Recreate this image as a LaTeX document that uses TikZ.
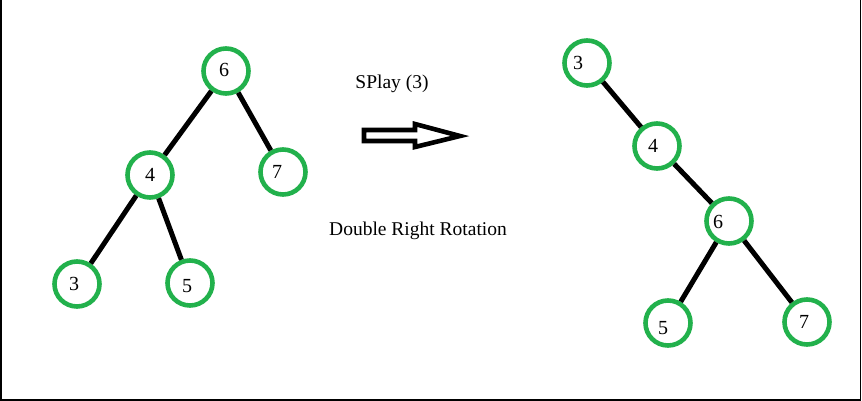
\documentclass[tikz,border=0pt]{standalone}
\usepackage{fontspec}
\setmainfont{Liberation Serif}
\definecolor{pgreen}{RGB}{34,177,76}
\begin{document}
\begin{tikzpicture}[x=1pt,y=-1pt,
  vert/.style={circle,draw=pgreen,line width=4.6pt,minimum size=45pt,inner sep=0pt},
  dig/.style={font=\fontsize{20}{20}\selectfont,inner sep=0pt},
  edge/.style={line width=5pt,black},
  captext/.style={font=\fontsize{19.5}{22}\selectfont,inner sep=0pt,anchor=base}]
\useasboundingbox (0,0) rectangle (862,401);
\draw[line width=1.6pt] (1,0) -- (1,400) -- (860.5,400) -- (860.5,0);
% left tree
\node[vert,label={[dig,shift={(-2pt,1pt)}]center:6}] (a6) at (226,71) {};
\node[vert,label={[dig,shift={(0pt,0pt)}]center:4}] (a4) at (150,175) {};
\node[vert,label={[dig,shift={(-6pt,0pt)}]center:7}] (a7) at (283,172) {};
\node[vert,label={[dig,shift={(-3pt,0pt)}]center:3}] (a3) at (77,284) {};
\node[vert,label={[dig,shift={(-3pt,-3pt)}]center:5}] (a5) at (190,283) {};
\draw[edge] (a6) -- (a4);
\draw[edge] (a6) -- (a7);
\draw[edge] (a4) -- (a3);
\draw[edge] (a4) -- (a5);
% right tree
\node[vert,label={[dig,shift={(-9pt,0pt)}]center:3}] (b3) at (587,63) {};
\node[vert,label={[dig,shift={(-4pt,0pt)}]center:4}] (b4) at (657,146) {};
\node[vert,label={[dig,shift={(-11pt,-1pt)}]center:6}] (b6) at (729,221) {};
\node[vert,label={[dig,shift={(-5pt,-5pt)}]center:5}] (b5) at (668,323) {};
\node[vert,label={[dig,shift={(-3pt,0pt)}]center:7}] (b7) at (807,322) {};
\draw[edge] (b3) -- (b4);
\draw[edge] (b4) -- (b6);
\draw[edge] (b6) -- (b5);
\draw[edge] (b6) -- (b7);
% middle
\node[captext] (t1) at (392,89) {SPlay (3)};
\node[captext] (t2) at (418,235) {Double Right Rotation};
\draw[line width=4.6pt,line join=miter] (364,130) -- (415,130) -- (415,124) -- (460,136) -- (415,147) -- (415,141) -- (364,141) -- cycle;
\end{tikzpicture}
\end{document}
